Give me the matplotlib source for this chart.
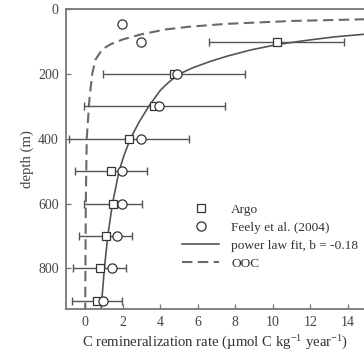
import matplotlib
matplotlib.use("Agg")
import matplotlib.pyplot as plt
import numpy as np

plt.rcParams["font.family"] = ["Liberation Serif", "DejaVu Serif"]
plt.rcParams["mathtext.fontset"] = "custom"
plt.rcParams["mathtext.rm"] = "Liberation Serif"
plt.rcParams["mathtext.it"] = "Liberation Serif:italic"

# Argo estimates (squares with error bars)
argo_depth = [100, 200, 300, 400, 500, 600, 700, 800, 900]
argo_rate = [10.19, 4.75, 3.68, 2.32, 1.36, 1.48, 1.09, 0.77, 0.63]
argo_err = [3.62, 3.78, 3.74, 3.2, 1.91, 1.52, 1.41, 1.4, 1.31]

# Feely et al. (2004) (circles)
feely_depth = [45, 100, 200, 300, 400, 500, 600, 700, 800, 900]
feely_rate = [1.94, 2.95, 4.9, 3.92, 2.95, 1.96, 1.97, 1.71, 1.45, 0.93]

# power law fit curve
fit_depth = [70, 77, 85, 95, 108, 125, 144, 160, 180, 200, 225, 250, 300,
             350, 400, 450, 500, 600, 700, 800, 900, 925]
fit_rate = [16.3, 14.85, 13.3, 11.9, 10.3, 8.85, 7.6, 6.7, 5.75, 5.0, 4.45,
            4.0, 3.38, 2.85, 2.4, 2.07, 1.8, 1.45, 1.2, 1.02, 0.88, 0.85]

# OOC curve
ooc_depth = [30, 36, 45, 54, 62, 77, 93, 108, 124, 155, 200, 280, 400, 600, 925]
ooc_rate = [15.5, 11.0, 7.5, 5.5, 4.3, 3.0, 2.0, 1.35, 0.9, 0.55, 0.37, 0.22,
            0.08, 0.03, 0.0]

xticks = [0, 2, 4, 6, 8, 10, 12, 14]
yticks = [0, 200, 400, 600, 800]

fig = plt.figure(figsize=(3.64, 3.55), dpi=100)
ax = fig.add_axes([0.1805, 0.1287, 0.8195, 0.8451])

grey = "#555555"
ax.plot(ooc_rate, ooc_depth, color="#6a6a6a", lw=1.5, ls=(0, (5, 2.6)),
        label="OOC", zorder=2)
ax.plot(fit_rate, fit_depth, color=grey, lw=1.2, label="power law fit, b = -0.18",
        zorder=2)
ax.errorbar(argo_rate, argo_depth, xerr=argo_err, fmt="none", ecolor=grey,
            elinewidth=1.0, capsize=3.2, capthick=1.0, zorder=3)
ax.plot(argo_rate, argo_depth, ls="none", marker="s", ms=5.2, mfc="white",
        mec="#333333", mew=0.9, label="Argo", zorder=4)
ax.plot(feely_rate, feely_depth, ls="none", marker="o", ms=6.6, mfc="white",
        mec="#333333", mew=0.9, label="Feely et al. (2004)", zorder=4)

ax.set_xlim(-1.04, 14.85)
ax.set_ylim(926, 0)
ax.set_xticks(xticks)
ax.set_yticks(yticks)
ax.tick_params(direction="in", length=3.5, width=0.9, color="#777777",
               labelsize=10, labelcolor="#444444", pad=5)
for side in ["left", "top", "bottom"]:
    ax.spines[side].set_color("#777777")
    ax.spines[side].set_linewidth(1.3)
ax.spines["right"].set_visible(False)

ax.set_xlabel("C remineralization rate (µmol C kg$^{-1}$ year$^{-1}$)",
              fontsize=10.6, color="#333333", labelpad=3)
ax.set_ylabel("depth (m)", fontsize=10.6, color="#444444", labelpad=3)

handles, labels = ax.get_legend_handles_labels()
order = [2, 3, 1, 0]
leg = ax.legend([handles[i] for i in order], [labels[i] for i in order],
                loc="upper left", bbox_to_anchor=(0.39, 0.353), frameon=False,
                fontsize=9.6, handlelength=2.8, handletextpad=0.9,
                labelspacing=0.43, borderpad=0, borderaxespad=0)
for t in leg.get_texts():
    t.set_color("#333333")

fig.savefig("out.png", dpi=100)
